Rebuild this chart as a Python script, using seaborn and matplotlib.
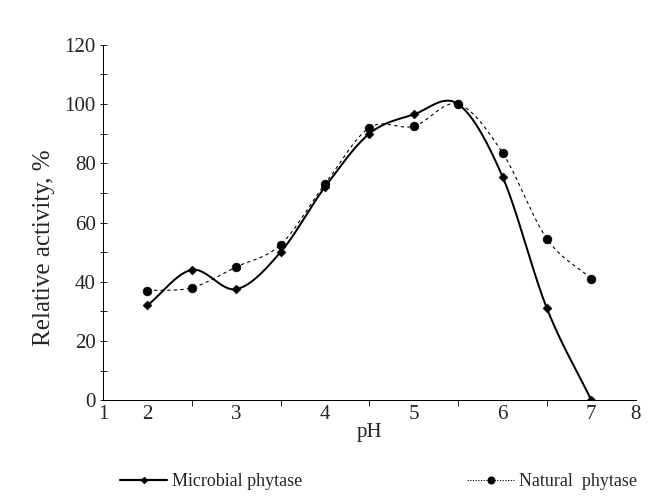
import numpy as np
import pandas as pd
import seaborn as sns
import matplotlib
matplotlib.use("Agg")
import matplotlib.pyplot as plt
from matplotlib.lines import Line2D

# data
ph = [2, 2.5, 3, 3.5, 4, 4.5, 5, 5.5, 6, 6.5, 7]
microbial = [32, 44, 37.5, 50, 72, 90, 96.5, 100, 75.5, 31, 0]
natural = [37, 38, 45, 52.5, 73, 92, 92.5, 100, 83.5, 54.5, 41]

tick_pos = [1.5, 2, 3, 4, 5, 6, 7, 7.5]
tick_lab = ["1", "2", "3", "4", "5", "6", "7", "8"]


def smooth(x, y, n=30):
    # Catmull-Rom spline through the points (like Excel's smoothed line)
    x = np.asarray(x, float)
    y = np.asarray(y, float)
    px = np.concatenate([[2 * x[0] - x[1]], x, [2 * x[-1] - x[-2]]])
    py = np.concatenate([[2 * y[0] - y[1]], y, [2 * y[-1] - y[-2]]])
    xs, ys = [], []
    t = np.linspace(0, 1, n, endpoint=False)
    for i in range(1, len(px) - 2):
        for p, out in ((px, xs), (py, ys)):
            p0, p1, p2, p3 = p[i - 1], p[i], p[i + 1], p[i + 2]
            out.extend(0.5 * ((2 * p1) + (-p0 + p2) * t
                              + (2 * p0 - 5 * p1 + 4 * p2 - p3) * t ** 2
                              + (-p0 + 3 * p1 - 3 * p2 + p3) * t ** 3))
    xs.append(x[-1])
    ys.append(y[-1])
    return np.array(xs), np.array(ys)


sns.set_style("ticks")
plt.rcParams["font.family"] = ["Liberation Serif", "DejaVu Serif"]

fig, ax = plt.subplots(figsize=(9, 7), dpi=72)
fig.subplots_adjust(left=0.159, right=0.981, bottom=0.206, top=0.911)

mx, my = smooth(ph, microbial)
nx, ny = smooth(ph, natural)
sns.lineplot(x=mx, y=my, ax=ax, color="black", lw=2, sort=False)
sns.lineplot(x=nx, y=ny, ax=ax, color="black", lw=1.1, ls=(0, (3, 3)), sort=False)

df = pd.DataFrame({"pH": ph, "Microbial phytase": microbial, "Natural phytase": natural})
sns.scatterplot(data=df, x="pH", y="Microbial phytase", ax=ax, marker="D", s=40,
                color="black", edgecolor="black", zorder=3)
sns.scatterplot(data=df, x="pH", y="Natural phytase", ax=ax, marker="o", s=75,
                color="black", edgecolor="black", zorder=3)

ax.set_xlim(1.5, 7.5)
ax.set_ylim(0, 120)
ax.set_xticks(np.arange(1.5, 7.51, 0.5), minor=True)
ax.set_xticks(tick_pos)
ax.set_xticklabels(tick_lab)
ax.set_yticks(range(0, 121, 20))
ax.set_yticks(range(0, 121, 10), minor=True)
ax.tick_params(axis="x", which="both", direction="out", length=6, width=1,
               labelsize=21, pad=5)
ax.tick_params(axis="x", which="major", length=0)
ax.tick_params(axis="y", which="both", direction="inout", length=7, width=1,
               labelsize=21, pad=4)
ax.set_xlabel("pH", fontsize=21, labelpad=-1)
ax.set_ylabel("Relative activity, %", fontsize=25)
ax.yaxis.set_label_coords(-0.09, 0.43)
sns.despine(ax=ax)
for s in ("left", "bottom"):
    ax.spines[s].set_linewidth(1)
    ax.spines[s].set_color("black")

handles = [
    Line2D([], [], color="black", lw=2.2, marker="D", markersize=4.5),
    Line2D([], [], color="black", lw=1, ls=(0, (1.2, 1.5)), marker="o", markersize=7),
]
fig.legend(handles, ["Microbial phytase", "Natural  phytase"], loc="lower left",
           bbox_to_anchor=(104 / 648, -0.005), ncol=2, frameon=False, fontsize=18,
           handlelength=2.6, handletextpad=0.25, columnspacing=9.2)

fig.savefig("out.png", dpi=72)
